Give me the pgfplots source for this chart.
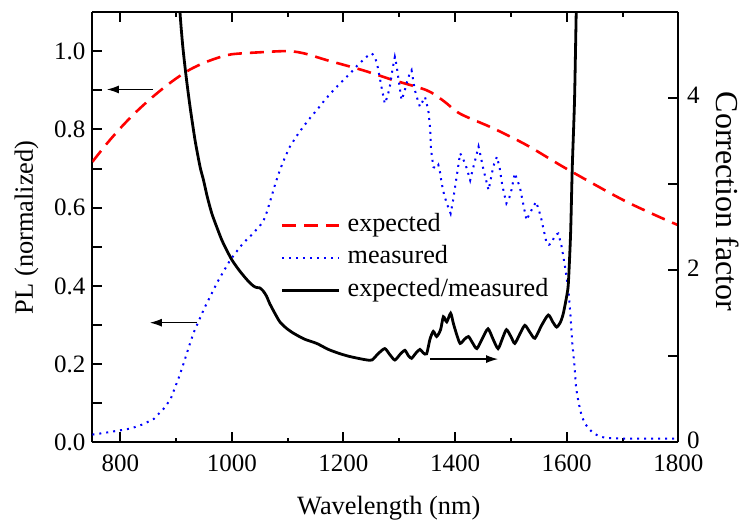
\documentclass[border=0pt]{standalone}
\usepackage{fontspec}
\setmainfont{Liberation Serif}
\usepackage{pgfplots}
\pgfplotsset{compat=1.18}
\usetikzlibrary{arrows.meta,calc}
\definecolor{pblue}{RGB}{0,0,255}
\definecolor{pred}{RGB}{255,0,0}
\begin{document}
\begin{tikzpicture}
\pgfplotsset{
  common/.style={
    scale only axis, width=293pt, height=215.25pt,
    xmin=750, xmax=1800,
    tick align=inside,
    major tick length=5pt, minor tick length=2.3pt,
    axis line style={line width=1pt},
    every tick/.style={line width=1pt, black},
    tick label style={font=\fontsize{12.5}{14}\selectfont},
    /pgf/number format/assume math mode=true,
  }
}
\begin{axis}[common, name=ax,
  ymin=0, ymax=1.1,
  axis y line*=left,
  xtick={800,1000,1200,1400,1600,1800},
  xticklabels={800,1000,1200,1400,1600,1800},
  xticklabel style={inner sep=0.5pt, yshift=-5.6pt},
  minor xtick={900,1100,1300,1500,1700},
  ytick={0,0.1,0.2,0.3,0.4,0.5,0.6,0.7,0.8,0.9,1.0},
  yticklabels={0.0,,0.2,,0.4,,0.6,,0.8,,1.0},
  ytick pos=left,
  xlabel={Wavelength (nm)},
  ylabel={PL (normalized)},
  every axis x label/.style={at={(axis description cs:0.506,-0.1684)}, anchor=base, font=\fontsize{13.2}{15}\selectfont},
  every axis y label/.style={at={(axis description cs:-0.1014,0.5)}, anchor=base, rotate=90, font=\fontsize{13.2}{15}\selectfont},
]
% expected
\addplot[pred, line width=1.3pt, dash pattern=on 7pt off 4pt, smooth, tension=0.5] coordinates {
(750,0.717) (775,0.762) (800,0.803) (825,0.840) (850,0.873) (875,0.903) (900,0.930) (925,0.953) (950,0.970) (975,0.983) (1000,0.992) (1050,0.997) (1100,1.0) (1130,0.994) (1170,0.977) (1235,0.951) (1289,0.926) (1349,0.900) (1380,0.872) (1409,0.840) (1468,0.803) (1528,0.760) (1588,0.709) (1630,0.675) (1678,0.637) (1713,0.611) (1760,0.580) (1800,0.555)
};
% measured
\addplot[pblue, line width=1pt, dash pattern=on 1pt off 2.5pt] coordinates {
(750,0.020) (770,0.024) (800,0.031) (820,0.036) (840,0.046) (860,0.060) (877,0.085) (890,0.110) (898,0.140) (906,0.170) (913,0.200) (922,0.240) (931,0.279) (941,0.312) (952,0.347) (963,0.378) (973,0.407) (985,0.437) (997,0.466) (1008,0.487) (1020,0.509) (1035,0.530) (1048,0.550) (1056,0.564) (1063,0.590) (1071,0.628) (1078,0.662) (1086,0.696) (1095,0.728) (1104,0.756) (1116,0.783) (1128,0.807) (1140,0.829) (1152,0.849) (1167,0.876) (1182,0.900) (1197,0.922) (1212,0.943) (1224,0.962) (1235,0.977) (1245,0.990) (1251,0.994) (1256,0.985) (1260,0.969) (1264,0.940) (1268,0.909) (1274,0.866) (1279,0.885) (1283,0.909) (1288,0.955) (1292,0.985) (1295,0.965) (1298,0.934) (1304,0.875) (1309,0.895) (1313,0.917) (1318,0.940) (1322,0.951) (1325,0.925) (1328,0.900) (1333,0.875) (1337,0.858) (1342,0.872) (1346,0.883) (1349,0.866) (1352,0.849) (1355,0.807) (1357,0.747) (1361,0.704) (1366,0.700) (1370,0.709) (1373,0.690) (1376,0.662) (1380,0.635) (1385,0.611) (1392,0.585) (1396,0.615) (1400,0.653) (1405,0.700) (1409,0.739) (1413,0.728) (1418,0.713) (1423,0.690) (1427,0.670) (1432,0.700) (1436,0.722) (1442,0.756) (1446,0.730) (1451,0.696) (1456,0.668) (1460,0.645) (1466,0.688) (1470,0.712) (1475,0.730) (1480,0.700) (1484,0.662) (1488,0.635) (1492,0.611) (1497,0.625) (1501,0.645) (1507,0.688) (1511,0.672) (1516,0.653) (1522,0.610) (1528,0.568) (1533,0.583) (1537,0.594) (1545,0.615) (1550,0.595) (1555,0.568) (1560,0.535) (1564,0.509) (1568,0.505) (1573,0.509) (1579,0.530) (1585,0.534) (1591,0.500) (1597,0.449) (1603,0.390) (1607,0.321) (1610,0.253) (1613,0.211) (1617,0.138) (1621,0.104) (1627,0.066) (1633,0.048) (1639,0.036) (1646,0.026) (1654,0.019) (1663,0.014) (1672,0.011) (1700,0.010) (1750,0.010) (1800,0.010)
};
\draw[line width=0.6pt, -{Latex[length=6pt,width=4pt]}] (axis cs:859,0.902) -- (axis cs:776,0.902);
\draw[line width=0.6pt, -{Latex[length=6pt,width=4pt]}] (axis cs:937,0.306) -- (axis cs:853,0.306);
\draw[line width=0.6pt, -{Latex[length=6pt,width=4pt]}] (axis cs:1355,0.213) -- (axis cs:1477,0.213);
\end{axis}
\begin{axis}[common,
  ymin=0, ymax=5,
  axis x line=none, axis y line*=right,
  ytick={0,1,2,3,4}, yticklabels={0,,2,,4},
  yticklabel style={inner sep=0.5pt, xshift=3.7pt, yshift=1.2pt},
  ytick pos=right,
  ylabel={Correction factor},
  every axis y label/.style={at={(axis description cs:1.0659,0.56)}, anchor=base, rotate=-90, font=\fontsize{16}{18}\selectfont},
  legend image code/.code={\draw[#1] (0pt,0pt) -- (28.5pt,0pt);},
  legend style={at={(axis description cs:0.321,0.533)}, anchor=north west, draw=none, fill=none, inner sep=0pt,
    font=\fontsize{13.1}{15}\selectfont, row sep=4.25pt, column sep=3.5pt,
    nodes={inner sep=0pt, text height=9pt, text depth=3pt}},
  legend cell align=left,
]
\addlegendimage{pred, line width=1.3pt, dash pattern=on 7pt off 4pt}
\addlegendentry{expected}
\addlegendimage{pblue, line width=1pt, dash pattern=on 1pt off 2.5pt}
\addlegendentry{measured}
\addplot[black, line width=1.4pt, smooth, tension=0.4] coordinates {
(903,5.6) (907,5.0) (912,4.6) (918,4.25) (925,3.90) (934,3.51) (943,3.20) (949,3.05) (956,2.85) (964,2.66) (973,2.50) (982,2.35) (991,2.23) (1000,2.12) (1013,2.00) (1027,1.89) (1038,1.82) (1044,1.80) (1050,1.795) (1056,1.76) (1062,1.70) (1068,1.61) (1077,1.50) (1086,1.40) (1097,1.33) (1110,1.27) (1130,1.20) (1152,1.15) (1173,1.08) (1194,1.03) (1210,1.00) (1224,0.98) (1240,0.96) (1251,0.957) (1262,1.03) (1274,1.09) (1283,1.02) (1292,0.957) (1301,1.02) (1310,1.07) (1316,1.01) (1322,0.977) (1330,1.04) (1337,1.08) (1343,1.04) (1349,1.03) (1355,1.20) (1361,1.29) (1367,1.23) (1374,1.31) (1379,1.46) (1385,1.40) (1392,1.50) (1397,1.38) (1403,1.25) (1409,1.15) (1417,1.20) (1424,1.23) (1431,1.16) (1439,1.09) (1449,1.21) (1459,1.32) (1468,1.20) (1477,1.09) (1485,1.21) (1492,1.31) (1500,1.23) (1507,1.15) (1516,1.26) (1525,1.36) (1534,1.28) (1543,1.21) (1555,1.36) (1567,1.48) (1575,1.40) (1582,1.34) (1589,1.40) (1594,1.50) (1600,1.70) (1603,1.85) (1607,2.43) (1610,3.20) (1614,3.97) (1617,4.98) (1619,5.6)
};
\addlegendentry{expected/measured}
\end{axis}
\pgfresetboundingbox
\path ($(ax.south west)+(-46.2pt,-40.25pt)$) rectangle ($(ax.north east)+(30.85pt,6pt)$);
\end{tikzpicture}
\end{document}
